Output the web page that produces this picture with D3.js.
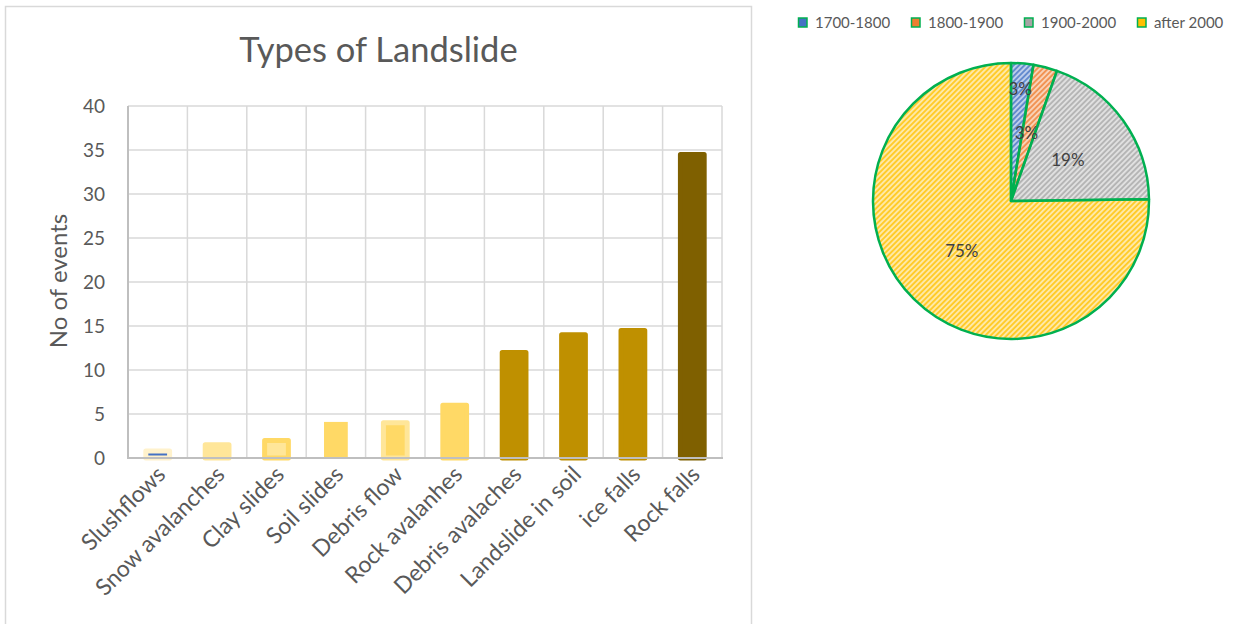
<!DOCTYPE html>
<html>
<head>
<meta charset="utf-8">
<script src="https://cdn.jsdelivr.net/npm/d3@7"></script>
<style>
  body { margin: 0; background: #fff; }
  text { font-family: Lato, "Open Sans", sans-serif; }
</style>
</head>
<body>
<script>
// bar chart data
var categories = ["Slushflows", "Snow avalanches", "Clay slides", "Soil slides", "Debris flow",
                  "Rock avalanhes", "Debris avalaches", "Landslide in soil", "ice falls", "Rock falls"];
var events = [0.8, 1.5, 2, 4.1, 4, 6, 12, 14, 14.5, 34.5];
var barFills = ["#4472c4", "#ffe699", "#ffe699", "#ffd966", "#ffd966",
                "#ffd966", "#bf9000", "#bf9000", "#bf9000", "#7f6000"];
var barGlows = ["#fff2cc", "#ffe699", "#ffd966", null, "#ffe699",
                "#ffd966", "#bf9000", "#bf9000", "#bf9000", "#7f6000"];
var yTicks = [0, 5, 10, 15, 20, 25, 30, 35, 40];

// pie data
var periods = ["1700-1800", "1800-1900", "1900-2000", "after 2000"];
var shares = [2.6, 2.8, 19.4, 75.2];
var periodColors = ["#4472c4", "#ed7d31", "#a5a5a5", "#ffc000"];

var svg = d3.select("body").append("svg")
   .attr("width", 1241)
   .attr("height", 624);

svg.append("rect").attr("width", 1241).attr("height", 624).attr("fill", "#fff");

// chart frame of the bar chart
svg.append("rect")
   .attr("x", 5.5).attr("y", 6.5)
   .attr("width", 746).attr("height", 640)
   .attr("fill", "none")
   .attr("stroke", "#d9d9d9")
   .attr("stroke-width", 1.5);

svg.append("text")
   .attr("x", 378.5).attr("y", 62)
   .attr("text-anchor", "middle")
   .attr("fill", "#595959")
   .style("font-size", "34.5px")
   .text("Types of Landslide");

var x = d3.scaleBand().domain(categories).range([128, 722]);
var y = d3.scaleLinear().domain([0, 40]).range([458, 106]);

// gridlines
svg.append("g").selectAll("line")
   .data(yTicks.slice(1))
   .enter().append("line")
   .attr("x1", 128).attr("x2", 722)
   .attr("y1", function(d) { return y(d); })
   .attr("y2", function(d) { return y(d); })
   .attr("stroke", "#d9d9d9").attr("stroke-width", 1.5);

svg.append("g").selectAll("line")
   .data(categories.slice(1).concat(["end"]))
   .enter().append("line")
   .attr("x1", function(d) { return d === "end" ? 722 : x(d); })
   .attr("x2", function(d) { return d === "end" ? 722 : x(d); })
   .attr("y1", y(40)).attr("y2", y(0))
   .attr("stroke", "#d9d9d9").attr("stroke-width", 1.5);

// bars
var bw = x.bandwidth() * 0.4;
svg.append("g").selectAll("rect")
   .data(categories)
   .enter().append("rect")
   .attr("x", function(d) { return x(d) + (x.bandwidth() - bw) / 2; })
   .attr("width", bw)
   .attr("y", function(d, i) { return y(events[i]); })
   .attr("height", function(d, i) { return y(0) - y(events[i]); })
   .attr("fill", function(d, i) { return barFills[i]; })
   .attr("stroke", function(d, i) { return barGlows[i] || "none"; })
   .attr("stroke-width", 5)
   .attr("stroke-linejoin", "round");

// axes lines
svg.append("line").attr("x1", 128).attr("x2", 128).attr("y1", y(40)).attr("y2", y(0))
   .attr("stroke", "#bfbfbf").attr("stroke-width", 2);
svg.append("line").attr("x1", 127).attr("x2", 723).attr("y1", y(0)).attr("y2", y(0))
   .attr("stroke", "#bfbfbf").attr("stroke-width", 2);

// y tick labels
svg.append("g").selectAll("text")
   .data(yTicks)
   .enter().append("text")
   .attr("x", 105)
   .attr("y", function(d) { return y(d); })
   .attr("dy", "0.36em")
   .attr("text-anchor", "end")
   .attr("fill", "#595959")
   .style("font-size", "19px")
   .text(function(d) { return d; });

svg.append("text")
   .attr("transform", "translate(67,281) rotate(-90)")
   .attr("text-anchor", "middle")
   .attr("fill", "#595959")
   .style("font-size", "24px")
   .text("No of events");

// x labels
svg.append("g").selectAll("text")
   .data(categories)
   .enter().append("text")
   .attr("transform", function(d) {
      return "translate(" + (x(d) + x.bandwidth() / 2 + 9) + ",476) rotate(-45)";
   })
   .attr("text-anchor", "end")
   .attr("fill", "#595959")
   .style("font-size", "23px")
   .text(function(d) { return d; });

// pie chart
var defs = svg.append("defs");
periodColors.forEach(function(c, i) {
   var p = defs.append("pattern")
      .attr("id", "hatch" + i)
      .attr("patternUnits", "userSpaceOnUse")
      .attr("width", 3.8).attr("height", 3.8)
      .attr("patternTransform", "rotate(45)");
   p.append("rect").attr("width", 3.8).attr("height", 3.8).attr("fill", c).attr("opacity", 0.35);
   p.append("rect").attr("width", 1.9).attr("height", 3.8).attr("fill", c).attr("opacity", 0.75);
});

var pie = d3.pie().sort(null)(shares);
var arc = d3.arc().innerRadius(0).outerRadius(138);
var cx = 1011, cy = 201;
var pg = svg.append("g").attr("transform", "translate(" + cx + "," + cy + ")");

pg.selectAll("path")
   .data(pie)
   .enter().append("path")
   .attr("d", arc)
   .attr("fill", function(d, i) { return "url(#hatch" + i + ")"; })
   .attr("stroke", "#00b050")
   .attr("stroke-width", 2.5)
   .attr("stroke-linejoin", "round");

pg.selectAll("text")
   .data(pie)
   .enter().append("text")
   .attr("transform", function(d, i) {
      var r = i === 0 ? 112 : 70;
      var a = (d.startAngle + d.endAngle) / 2;
      if (i === 1) a = d.startAngle + 0.06;
      return "translate(" + (Math.sin(a) * r) + "," + (-Math.cos(a) * r) + ")";
   })
   .attr("text-anchor", "middle")
   .attr("dy", "0.36em")
   .attr("fill", "#404040")
   .style("font-size", "17px")
   .text(function(d) { return Math.round(d.data) + "%"; });

// legend
var lg = svg.append("g").selectAll("g")
   .data(periods)
   .enter().append("g")
   .attr("transform", function(d, i) { return "translate(" + (798 + i * 113) + ",0)"; });
lg.append("rect")
   .attr("x", 0.5).attr("y", 18)
   .attr("width", 8.5).attr("height", 9)
   .attr("fill", function(d, i) { return periodColors[i]; })
   .attr("stroke", "#00b050")
   .attr("stroke-width", 1.5);
lg.append("text")
   .attr("x", 17).attr("y", 23)
   .attr("dy", "0.36em")
   .attr("fill", "#595959")
   .style("font-size", "15px")
   .text(function(d) { return d; });
</script>
</body>
</html>
